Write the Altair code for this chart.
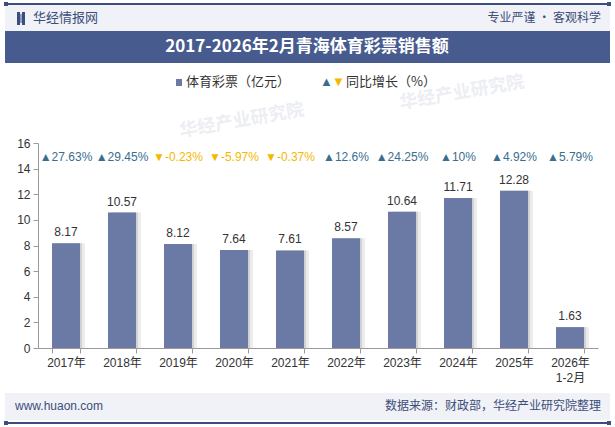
import altair as alt
import pandas as pd

# Data
years = ["2017年", "2018年", "2019年", "2020年", "2021年", "2022年",
         "2023年", "2024年", "2025年", "2026年\n1-2月"]
sales = [8.17, 10.57, 8.12, 7.64, 7.61, 8.57, 10.64, 11.71, 12.28, 1.63]
growth = [27.63, 29.45, -0.23, -5.97, -0.37, 12.6, 24.25, 10, 4.92, 5.79]
growth_text = ["27.63%", "29.45%", "-0.23%", "-5.97%", "-0.37%", "12.6%",
               "24.25%", "10%", "4.92%", "5.79%"]

BAR = "#6a7aa5"
UP = "#3a6e8f"
DOWN = "#f5b800"
NAVY = "#475b8f"
BAND = "#f0f2f7"
TEXT = "#333333"
SANS = "'Liberation Sans', 'Noto Sans CJK SC', sans-serif"
CJK = "'Noto Sans CJK SC', sans-serif"

# plot-area origin within the 615x427 canvas
OX, OY = 38, 143
PW, PH = 560, 205

df = pd.DataFrame({
    "year": years,
    "sales": sales,
    "growth": growth,
    "glabel": [("▲" if g >= 0 else "▼") + t for g, t in zip(growth, growth_text)],
    "dir": ["up" if g >= 0 else "down" for g in growth],
})

one = pd.DataFrame({"k": [0]})

xenc = alt.X("year:N", sort=years, title=None,
             scale=alt.Scale(paddingInner=0.5, paddingOuter=0.25),
             axis=alt.Axis(labelAngle=0, labelFontSize=12, labelColor=TEXT,
                           labelFont=SANS, domainColor="#9a9a9a",
                           tickColor="#9a9a9a", tickBand="extent", tickSize=5,
                           labelPadding=4, labelLineHeight=15,
                           labelOverlap=False,
                           labelExpr="split(datum.label, '\\n')"))
yenc = alt.Y("sales:Q", title=None,
             scale=alt.Scale(domain=[0, 16]),
             axis=alt.Axis(values=[0, 2, 4, 6, 8, 10, 12, 14, 16], grid=False,
                           labelFontSize=12, labelColor=TEXT, labelFont=SANS,
                           labelOverlap=False,
                           domainColor="#9a9a9a", tickColor="#9a9a9a",
                           tickSize=5, labelPadding=3))


def px_rect(x1, y1, x2, y2, color, opacity=1.0):
    return alt.Chart(one).mark_rect(color=color, opacity=opacity, clip=False).encode(
        x=alt.value(x1 - OX), x2=alt.value(x2 - OX),
        y=alt.value(y1 - OY), y2=alt.value(y2 - OY))


def px_text(x, y, s, size=12, color=TEXT, align="left", font=CJK,
            weight="normal", opacity=1.0, angle=0):
    return alt.Chart(pd.DataFrame({"t": [s]})).mark_text(
        align=align, baseline="middle", fontSize=size, color=color, font=font,
        fontWeight=weight, opacity=opacity, angle=angle, clip=False
    ).encode(x=alt.value(x - OX), y=alt.value(y - OY), text="t:N")


def px_rule(x1, y1, x2, y2, color, width):
    return alt.Chart(one).mark_rule(color=color, strokeWidth=width, clip=False).encode(
        x=alt.value(x1 - OX), x2=alt.value(x2 - OX),
        y=alt.value(y1 - OY), y2=alt.value(y2 - OY))


# header / footer frame
frame = [
    px_rect(5, 5, 610, 31, BAND),
    px_rule(5, 4, 610, 4, "#3d4d80", 2),
    px_rect(4, 2, 8, 6, "#3d4d80"),
    px_rect(607, 2, 611, 6, "#3d4d80"),
    px_rect(17, 12, 20, 25, "#3d4d80"),
    px_rect(20, 14, 22, 23, "#8fa0c4"),
    px_rect(22, 12, 25, 25, "#3d4d80"),
    px_text(33, 18, "华经情报网", size=13, color="#3d4d7a"),
    px_text(601, 18, "专业严谨 • 客观科学", size=12, color="#3d4d7a", align="right"),
    px_rect(5, 31, 610, 63, NAVY),
    px_text(307, 47, "2017-2026年2月青海体育彩票销售额", size=17, color="white",
            align="center", weight="bold"),
    px_rect(5, 393, 610, 420, BAND),
    px_rule(5, 423, 610, 423, "#3d4d80", 2),
    px_rect(4, 421, 8, 425, "#3d4d80"),
    px_rect(607, 421, 611, 425, "#3d4d80"),
    px_text(15, 406, "www.huaon.com", size=12, color="#3d4d7a", font=SANS),
    px_text(601, 406, "数据来源：财政部，华经产业研究院整理", size=12,
            color="#3d4d7a", align="right"),
]

# faint watermarks
marks_wm = [
    px_text(180, 132, "华经产业研究院", size=18, color="#c9cfdd", opacity=0.35,
            weight="bold", angle=350),
    px_text(400, 104, "华经产业研究院", size=18, color="#c9cfdd", opacity=0.35,
            weight="bold", angle=350),
]

# legend
legend = [
    px_rect(176, 79, 182, 86, BAR),
    px_text(186, 82, "体育彩票（亿元）", size=13),
    px_text(320, 82, "▲", size=13, color=UP, font=SANS),
    px_text(332, 82, "▼", size=13, color=DOWN, font=SANS),
    px_text(346, 82, "同比增长（%）", size=13),
]

base = alt.Chart(df)

shadow_far = base.mark_bar(color="#ececec", xOffset=5).encode(x=xenc, y=yenc)
shadow_near = base.mark_bar(color="#d2d2d2", xOffset=2).encode(x=xenc, y=yenc)
bars = base.mark_bar(color=BAR).encode(x=xenc, y=yenc)

bar_labels = base.mark_text(dy=-11, fontSize=12, color=TEXT, font=SANS,
                            baseline="middle").encode(
    x=xenc, y=yenc, text=alt.Text("sales:Q", format=".2f"))

growth_labels = base.mark_text(fontSize=12, font=SANS, baseline="middle").encode(
    x=xenc,
    y=alt.value(157 - OY),
    text="glabel:N",
    color=alt.Color("dir:N", scale=alt.Scale(domain=["up", "down"], range=[UP, DOWN]),
                    legend=None),
)

chart = alt.layer(
    *frame, *marks_wm, *legend,
    shadow_far, shadow_near, bars, bar_labels, growth_labels
).properties(
    width=PW, height=PH,
    autosize=alt.AutoSizeParams(type="none"),
    padding={"left": OX, "top": OY, "right": 615 - OX - PW, "bottom": 427 - OY - PH},
    background="white",
).configure_view(stroke=None)

chart.save("out.html", embed_options={"renderer": "svg", "actions": False})
